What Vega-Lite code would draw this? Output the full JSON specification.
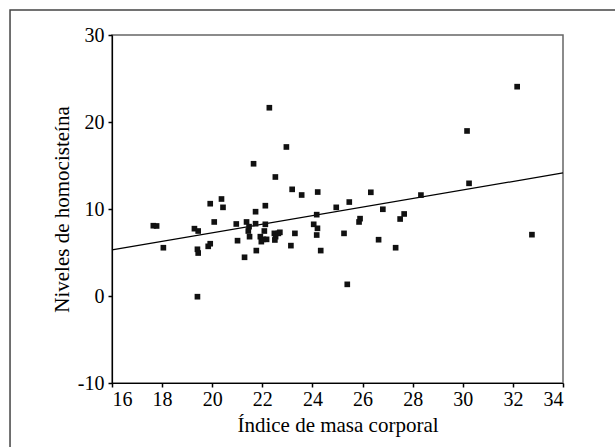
{
  "$schema": "https://vega.github.io/schema/vega-lite/v6.json",
  "autosize": {"type": "none"},
  "width": 451,
  "height": 348,
  "padding": {"left": 112, "top": 35, "right": 52, "bottom": 64},
  "background": "white",
  "config": {
    "view": {"stroke": "#666666", "strokeWidth": 1.5},
    "font": "Liberation Serif",
    "axis": {
      "domainColor": "black",
      "domainWidth": 1.2,
      "tickColor": "black",
      "tickSize": 4,
      "tickWidth": 1.5,
      "grid": false,
      "labelFont": "Liberation Serif",
      "labelFontSize": 20,
      "labelColor": "black",
      "titleFont": "Liberation Serif",
      "titleFontSize": 21,
      "titleFontWeight": "normal",
      "titleColor": "black"
    }
  },
  "datasets": {
    "pts": [
      {"imc": 17.65, "hcy": 8.08}, {"imc": 17.78, "hcy": 8.05}, {"imc": 18.05, "hcy": 5.55},
      {"imc": 19.29, "hcy": 7.74}, {"imc": 19.44, "hcy": 7.47}, {"imc": 19.41, "hcy": 5.37},
      {"imc": 19.44, "hcy": 4.94}, {"imc": 19.41, "hcy": -0.08}, {"imc": 19.84, "hcy": 5.71},
      {"imc": 19.92, "hcy": 6.01}, {"imc": 19.92, "hcy": 10.61}, {"imc": 20.08, "hcy": 8.51},
      {"imc": 20.37, "hcy": 11.15}, {"imc": 20.43, "hcy": 10.19}, {"imc": 20.96, "hcy": 8.28},
      {"imc": 21.01, "hcy": 6.36}, {"imc": 21.29, "hcy": 4.45}, {"imc": 21.37, "hcy": 8.51},
      {"imc": 21.47, "hcy": 7.97}, {"imc": 21.44, "hcy": 7.47}, {"imc": 21.49, "hcy": 6.82},
      {"imc": 21.65, "hcy": 15.2}, {"imc": 21.73, "hcy": 9.69}, {"imc": 21.73, "hcy": 8.31},
      {"imc": 21.76, "hcy": 5.22}, {"imc": 21.92, "hcy": 6.82}, {"imc": 21.96, "hcy": 6.25},
      {"imc": 22.08, "hcy": 7.47}, {"imc": 22.12, "hcy": 8.24}, {"imc": 22.12, "hcy": 10.38},
      {"imc": 22.04, "hcy": 6.51}, {"imc": 22.17, "hcy": 6.51}, {"imc": 22.28, "hcy": 21.64},
      {"imc": 22.48, "hcy": 7.2}, {"imc": 22.53, "hcy": 6.82}, {"imc": 22.5, "hcy": 6.44},
      {"imc": 22.52, "hcy": 13.68}, {"imc": 22.64, "hcy": 7.2}, {"imc": 22.7, "hcy": 7.32},
      {"imc": 22.96, "hcy": 17.13}, {"imc": 23.14, "hcy": 5.79}, {"imc": 23.19, "hcy": 12.26},
      {"imc": 23.3, "hcy": 7.2}, {"imc": 23.57, "hcy": 11.61}, {"imc": 24.05, "hcy": 8.24},
      {"imc": 24.2, "hcy": 7.78}, {"imc": 24.17, "hcy": 7.01}, {"imc": 24.17, "hcy": 9.35},
      {"imc": 24.21, "hcy": 11.95}, {"imc": 24.33, "hcy": 5.22}, {"imc": 24.95, "hcy": 10.19},
      {"imc": 25.26, "hcy": 7.2}, {"imc": 25.39, "hcy": 1.34}, {"imc": 25.47, "hcy": 10.8},
      {"imc": 25.86, "hcy": 8.51}, {"imc": 25.9, "hcy": 8.89}, {"imc": 26.33, "hcy": 11.92},
      {"imc": 26.64, "hcy": 6.47}, {"imc": 26.81, "hcy": 9.97}, {"imc": 27.32, "hcy": 5.55},
      {"imc": 27.5, "hcy": 8.85}, {"imc": 27.66, "hcy": 9.43}, {"imc": 28.33, "hcy": 11.6},
      {"imc": 30.17, "hcy": 18.97}, {"imc": 30.25, "hcy": 12.95}, {"imc": 32.17, "hcy": 24.06},
      {"imc": 32.76, "hcy": 7.05}
    ],
    "fit": [
      {"imc": 16, "hcy": 5.3},
      {"imc": 34, "hcy": 14.15}
    ]
  },
  "layer": [
    {
      "data": {"values": [{}]},
      "mark": {"type": "rect", "fill": null, "stroke": "#444444", "strokeWidth": 1.5, "clip": false},
      "encoding": {
        "x": {"datum": 11.93, "type": "quantitative"},
        "x2": {"datum": 40},
        "y": {"datum": 32.87, "type": "quantitative"},
        "y2": {"datum": -20}
      }
    },
    {
      "data": {"name": "fit"},
      "mark": {"type": "line", "color": "black", "strokeWidth": 1.3},
      "encoding": {
        "x": {"field": "imc", "type": "quantitative"},
        "y": {"field": "hcy", "type": "quantitative"}
      }
    },
    {
      "data": {"name": "pts"},
      "mark": {"type": "square", "color": "#111111", "opacity": 1, "filled": true, "size": 32},
      "encoding": {
        "x": {
          "field": "imc", "type": "quantitative",
          "scale": {"domain": [16, 34], "nice": false, "zero": false},
          "axis": {"values": [16, 18, 20, 22, 24, 26, 28, 30, 32, 34], "labelExpr": "'' + datum.value", "title": "Índice de masa corporal", "labelPadding": 2, "titlePadding": 5}
        },
        "y": {
          "field": "hcy", "type": "quantitative",
          "scale": {"domain": [-10, 30], "nice": false, "zero": false},
          "axis": {"values": [-10, 0, 10, 20, 30], "labelExpr": "'' + datum.value", "title": "Niveles de homocisteína", "labelPadding": 4, "titlePadding": 5}
        }
      }
    }
  ]
}
